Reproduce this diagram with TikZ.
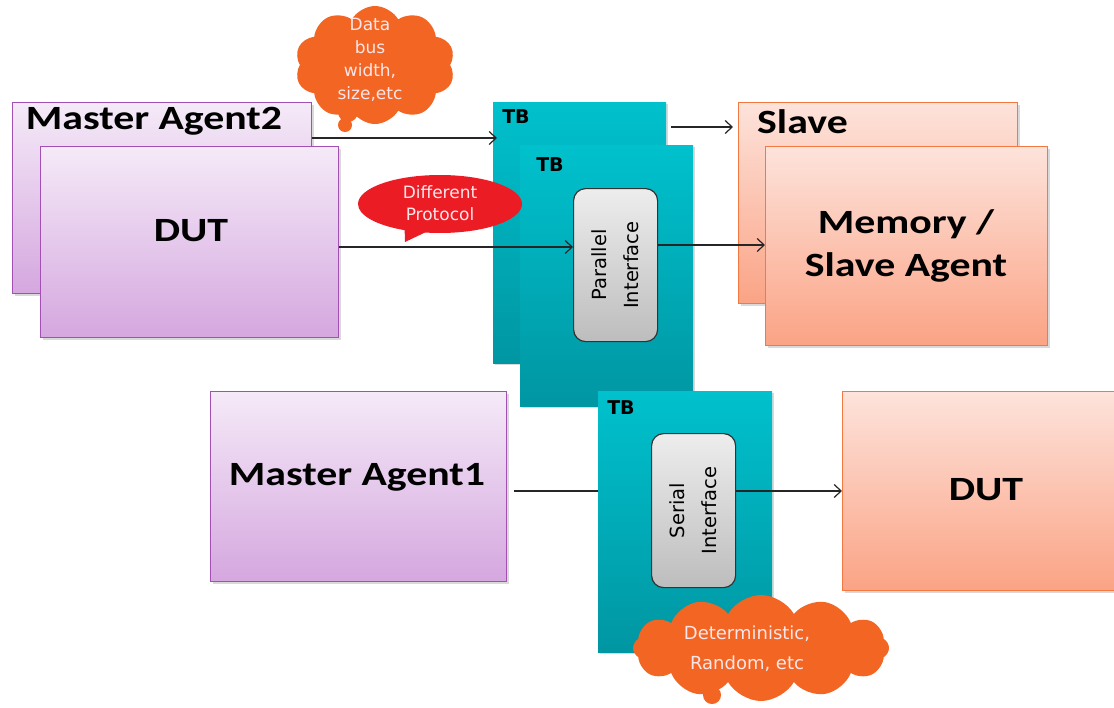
\documentclass[tikz,border=0pt]{standalone}
\usepackage{fontspec}
\newfontfamily\calfont[FakeStretch=1.23]{Carlito}
\newfontfamily\vfont{DejaVu Sans}
\usetikzlibrary{arrows.meta,shapes.symbols,shapes.callouts,shadows,calc}
\definecolor{purpT}{HTML}{F5EAF8}
\definecolor{purpB}{HTML}{D5A7DF}
\definecolor{purpD}{HTML}{A250B4}
\definecolor{salT}{HTML}{FDE3DB}
\definecolor{salB}{HTML}{FBA385}
\definecolor{salD}{HTML}{F27A42}
\definecolor{tealT}{HTML}{00C1CD}
\definecolor{tealB}{HTML}{0096A2}
\definecolor{grayT}{HTML}{EDEDED}
\definecolor{grayB}{HTML}{BDBDBD}
\definecolor{cloudO}{HTML}{F26522}
\definecolor{calloutR}{HTML}{EC1C24}
\definecolor{lightTxt}{HTML}{FDE6EA}
\begin{document}
\begin{tikzpicture}[x=1pt,y=-1pt,
  shd/.style={drop shadow={shadow xshift=2pt,shadow yshift=-2pt,opacity=0.3}},
  purpbox/.style={draw=purpD,line width=1.2pt,top color=purpT,bottom color=purpB,anchor=north west,inner sep=0pt,shd},
  salbox/.style={draw=salD,line width=1.2pt,top color=salT,bottom color=salB,anchor=north west,inner sep=0pt,shd},
  tealbox/.style={draw=none,top color=tealT,bottom color=tealB,anchor=north west,inner sep=0pt,shd},
  ifbox/.style={draw=black!80,line width=1.2pt,rounded corners=12pt,top color=grayT,bottom color=grayB,anchor=north west,inner sep=0pt},
  bigtxt/.style={font=\calfont\bfseries\fontsize{34}{43}\selectfont,align=center,inner sep=0pt},
  tbtxt/.style={font=\vfont\bfseries\fontsize{19}{20}\selectfont,inner sep=0pt},
  iftxt/.style={font=\vfont\fontsize{19.5}{32}\selectfont,align=center,rotate=90,inner sep=0pt},
  cloudtxt/.style={text=lightTxt,align=center,inner sep=0pt},
  conn/.style={line width=1.2pt,draw=black!85},
  arr/.style={conn,-{Straight Barb[length=7pt,width=13pt,line width=1.2pt]}}
]
\useasboundingbox (0,0) rectangle (1114,707);

% left purple boxes
\node[purpbox,minimum width=299pt,minimum height=191pt] (ma2) at (12,102) {};
\node[purpbox,minimum width=298pt,minimum height=191pt] (dut1) at (40,146) {};
\node[bigtxt] (ma2t) at (154,121) {Master Agent2};
\node[bigtxt] (dut1t) at (191,231) {DUT};

% teal TB boxes
\node[tealbox,minimum width=173pt,minimum height=261pt] (tb1) at (493,102) {};
\node[tbtxt] (tb1t) at (516,117) {TB};
\node[tealbox,minimum width=173pt,minimum height=261pt] (tb2) at (520,145) {};
\node[tbtxt] (tb2t) at (550,165) {TB};
\node[ifbox,minimum width=84pt,minimum height=153pt] (par) at (573,188) {};
\node[iftxt] (part) at (par.center) {Parallel\\Interface};

\node[tealbox,minimum width=174pt,minimum height=261pt] (tb3) at (598,391) {};
\node[tbtxt] (tb3t) at (621,408) {TB};
\node[ifbox,minimum width=84pt,minimum height=154pt] (ser) at (651,433) {};
\node[iftxt] (sert) at (ser.center) {Serial\\Interface};

% salmon boxes
\node[salbox,minimum width=279pt,minimum height=201pt] (slave) at (738,102) {};
\node[bigtxt,anchor=west] (slavet) at (757,122) {Slave};
\node[salbox,minimum width=282pt,minimum height=199pt] (mem) at (765,146) {};
\node[bigtxt] (memt) at (906,246) {Memory /\\Slave Agent};

% bottom row
\node[purpbox,minimum width=296pt,minimum height=190pt] (ma1) at (210,391) {};
\node[bigtxt] (ma1t) at (357,477) {Master Agent1};
\node[salbox,minimum width=290pt,minimum height=199pt] (dut2) at (842,391) {};
\node[bigtxt] (dut2t) at (986,490) {DUT};

% connectors
\draw[arr] (ma2.east |- 0,138) -- ($(tb1.west |- 0,138)+(4,0)$);
\draw[arr] ($(tb1.east |- 0,127)+(5,0)$) -- ($(slave.west |- 0,127)+(-5,0)$);
\draw[arr] (dut1.east |- 0,247) -- (par.west |- 0,247);
\draw[arr] (par.east |- 0,245) -- (mem.west |- 0,245);
\draw[conn] ($(ma1.east |- 0,491)+(7,0)$) -- (tb3.west |- 0,491);
\draw[arr] (ser.east |- 0,491) -- (dut2.west |- 0,491);

% top cloud
\node[cloud,cloud puffs=10,cloud puff arc=120,aspect=1.3,fill=cloudO,draw=none,
      minimum width=160pt,minimum height=118pt,inner sep=0pt] (c1) at (375,65) {};
\fill[cloudO] (348,112) circle (10pt);
\fill[cloudO] (345,125) circle (7pt);
\node[cloudtxt,font=\vfont\fontsize{17}{23}\selectfont] (c1t) at (370,60) {Data\\bus\\width,\\size,etc};

% red callout
\node[ellipse callout,fill=calloutR,draw=none,minimum width=164pt,minimum height=58pt,inner sep=0pt,
      callout absolute pointer={(405,242)}] (cal) at (440,204) {};
\node[cloudtxt,font=\vfont\fontsize{17}{22}\selectfont] (calt) at (440,203) {Different\\Protocol};

% bottom cloud
\node[cloud,cloud puffs=12,cloud puff arc=120,aspect=2.3,fill=cloudO,draw=none,
      minimum width=256pt,minimum height=106pt,inner sep=0pt] (c2) at (761,648) {};
\fill[cloudO] (712,695) circle (9pt);
\node[cloudtxt,font=\vfont\fontsize{18}{30}\selectfont] (c2t) at (747,649) {Deterministic,\\Random, etc};
\end{tikzpicture}
\end{document}
